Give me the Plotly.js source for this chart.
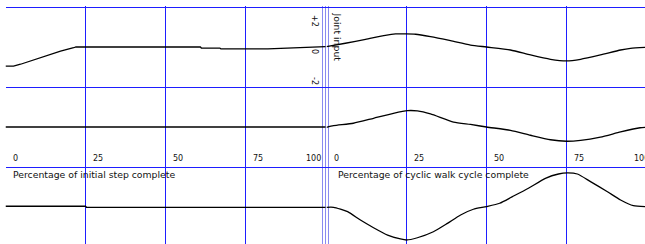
<!DOCTYPE html>
<html>
<head>
<meta charset="utf-8">
<script src="https://cdn.plot.ly/plotly-3.0.1.min.js"></script>
<style>html,body{margin:0;padding:0;background:#fff;}#chart{width:645px;height:244px;}</style>
</head>
<body>
<div id="chart"></div>
<script>
// ---- Data (percent complete vs joint input) ----
const initX_top = [0, 2.5, 4.7, 8.75, 13.1, 17.2, 21.3, 22, 60.9, 61.2, 67, 67.3, 82, 90.6, 100];
const initY_top = [-1.27, -1.27, -1.15, -0.87, -0.53, -0.27, -0.05, 0, 0, -0.07, -0.07, -0.13, -0.13, -0.05, 0.02];
const initX_mid = [0, 100];
const initY_mid = [0, 0];
const initX_bot = [0, 25, 25.3, 100];
const initY_bot = [0.05, 0.05, -0.02, -0.02];

const cycX_top = [0, 5.9, 12.2, 18.4, 21.6, 24.7, 27.8, 32.5, 38.75, 45, 50, 57.5, 63.75, 70, 75, 79.4, 85.6, 91.9, 95, 100];
const cycY_top = [0.02, 0.25, 0.51, 0.78, 0.87, 0.87, 0.85, 0.69, 0.42, 0.13, 0, -0.2, -0.53, -0.82, -0.93, -0.82, -0.53, -0.2, -0.09, -0.02];
const cycX_mid = [0, 2.2, 8.4, 14.7, 20.9, 25.3, 28.4, 32.5, 39.7, 45, 50, 57.5, 63.75, 70, 75, 79.4, 85.6, 91.9, 98, 100];
const cycY_mid = [-0.02, 0.09, 0.25, 0.58, 0.91, 1.09, 1.07, 0.87, 0.33, 0.17, 0, -0.22, -0.55, -0.85, -0.95, -0.89, -0.67, -0.33, -0.05, -0.02];
const cycX_bot = [0, 2.2, 6.6, 10.6, 14.7, 19.1, 23.1, 25, 28.4, 33.4, 37.8, 41.9, 45.9, 50, 54.1, 58.1, 63.1, 68.4, 72.5, 75.3, 78.4, 82.5, 87.8, 91.9, 95.9, 100];
const cycY_bot = [-0.02, -0.02, -0.31, -0.87, -1.38, -1.87, -2.13, -2.2, -2.05, -1.65, -1.09, -0.53, -0.15, 0.03, 0.25, 0.69, 1.25, 1.91, 2.2, 2.27, 2.2, 1.69, 1.02, 0.47, 0.09, 0.02];

const pctTicks = [0, 25, 50, 75, 100];
const pctTickLabels = ['0', '25', '50', '75', '100'];
const jointTicks = [2, 0, -2];
const jointTickLabels = ['+2', '0', '-2'];
const titleInitial = 'Percentage of initial step complete';
const titleCyclic = 'Percentage of cyclic walk cycle complete';
const titleJoint = 'Joint input';

// ---- Styles ----
const W = 645, H = 244;
const BLUE = 'rgb(30,30,255)';
const LIGHTBLUE = 'rgb(138,138,240)';
const FONT = 'DejaVu Sans, Verdana, sans-serif';
const TXT = '#111';

function line(x, y, xa, ya, shape) {
  return {x: x, y: y, xaxis: xa, yaxis: ya, type: 'scatter', mode: 'lines',
    line: {color: '#000', width: 1.3, shape: shape || 'linear', smoothing: 0.6},
    hoverinfo: 'skip', showlegend: false};
}

const data = [
  line(initX_top, initY_top, 'x', 'y'),
  line(initX_mid, initY_mid, 'x', 'y2'),
  line(initX_bot, initY_bot, 'x', 'y3'),
  line(cycX_top, cycY_top, 'x2', 'y', 'spline'),
  line(cycX_mid, cycY_mid, 'x2', 'y2', 'spline'),
  line(cycX_bot, cycY_bot, 'x2', 'y3', 'spline')
];

function yAx(extra) {
  return Object.assign({showgrid: true, gridcolor: BLUE, gridwidth: 1, zeroline: false, showline: false,
    showticklabels: false, ticks: '', tickmode: 'array', tickvals: [2.6333], fixedrange: true}, extra);
}
function xAx(extra) {
  return Object.assign({showgrid: true, gridcolor: BLUE, gridwidth: 1, zeroline: false, showline: false,
    showticklabels: false, ticks: '', tickmode: 'array', tickvals: [0, 25, 50, 75], fixedrange: true}, extra);
}

const annotations = [];
function pxY(py) { return (H - py) / H; }
pctTicks.forEach((t, i) => {
  const last = i === pctTicks.length - 1;
  annotations.push({xref: 'x', yref: 'paper', x: t, y: pxY(158.7), text: pctTickLabels[i],
    showarrow: false, xanchor: last ? 'right' : 'left', yanchor: 'middle',
    xshift: last ? -3 : 5, font: {family: FONT, size: 8, color: TXT}});
  if (!last) {
    annotations.push({xref: 'x2', yref: 'paper', x: t, y: pxY(158.7), text: pctTickLabels[i],
      showarrow: false, xanchor: 'left', yanchor: 'middle',
      xshift: 5, font: {family: FONT, size: 8, color: TXT}});
  } else {
    annotations.push({xref: 'paper', yref: 'paper', x: 632 / W, y: pxY(158.7), text: pctTickLabels[i],
      showarrow: false, xanchor: 'left', yanchor: 'middle',
      font: {family: FONT, size: 8, color: TXT}});
  }
});
annotations.push({xref: 'paper', yref: 'paper', x: 11 / W, y: pxY(174.3), text: titleInitial,
  showarrow: false, xanchor: 'left', yanchor: 'middle', font: {family: FONT, size: 9.3, color: TXT}});
annotations.push({xref: 'paper', yref: 'paper', x: 336 / W, y: pxY(174.3), text: titleCyclic,
  showarrow: false, xanchor: 'left', yanchor: 'middle', font: {family: FONT, size: 9.3, color: TXT}});
jointTicks.forEach((t, i) => {
  annotations.push({xref: 'paper', yref: 'y', x: 315 / W, y: t, text: jointTickLabels[i],
    showarrow: false, xanchor: 'center', yanchor: 'middle', textangle: 90, yshift: -4,
    font: {family: FONT, size: 8, color: TXT}});
});
annotations.push({xref: 'paper', yref: 'paper', x: 337 / W, y: pxY(37.5), text: titleJoint,
  showarrow: false, xanchor: 'center', yanchor: 'middle', textangle: 90,
  font: {family: FONT, size: 9.3, color: TXT}});

const layout = {
  width: W, height: H,
  margin: {l: 0, r: 0, t: 0, b: 0, pad: 0},
  paper_bgcolor: '#fff', plot_bgcolor: 'rgba(0,0,0,0)',
  showlegend: false,
  xaxis: xAx({domain: [5.5 / W, 335 / W], range: [0, (335 - 5.5) / 3.2], anchor: 'y',
    minor: {tickmode: 'array', tickvals: [99.0625, 100, 100.9375], showgrid: true, gridcolor: LIGHTBLUE, gridwidth: 1, ticks: ''}}),
  xaxis2: xAx({domain: [326.5 / W, 1], range: [0, (645 - 326.5) / 3.2], anchor: 'y'}),
  yaxis: yAx({domain: [pxY(85), pxY(5.5)], range: [(47 - 85) / 15, (47 - 5.5) / 15], anchor: 'x'}),
  yaxis2: yAx({domain: [pxY(165), pxY(85)], range: [(127 - 165) / 15, (127 - 85) / 15], anchor: 'x'}),
  yaxis3: yAx({domain: [0, pxY(165)], range: [(207 - 244) / 15, (207 - 165) / 15], anchor: 'x'}),
  annotations: annotations
};

Plotly.newPlot('chart', data, layout, {displayModeBar: false, staticPlot: true});
</script>
</body>
</html>
